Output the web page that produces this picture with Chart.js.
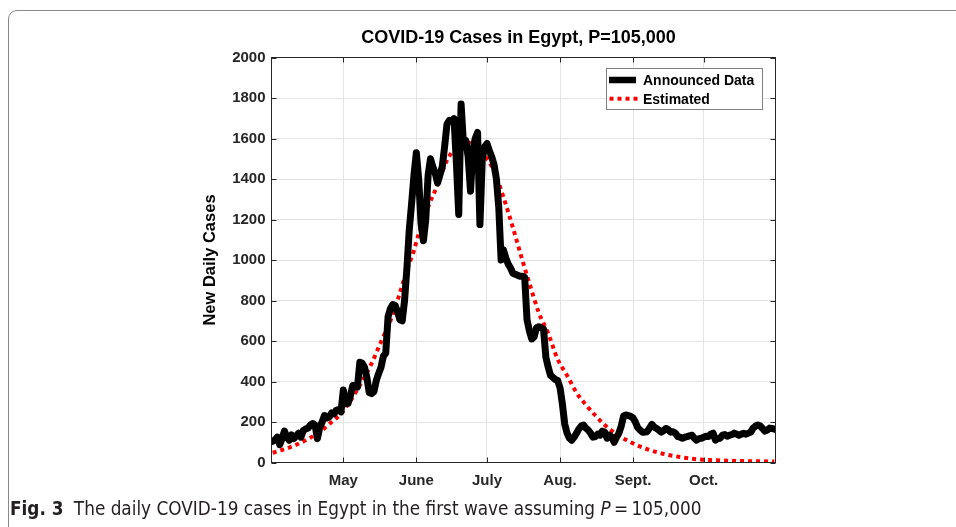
<!DOCTYPE html>
<html>
<head>
<meta charset="utf-8">
<script src="https://cdn.jsdelivr.net/npm/chart.js@4.4.1/dist/chart.umd.min.js"></script>
<style>
  html, body { margin: 0; padding: 0; background: #fff; }
  #wrap { position: relative; width: 956px; height: 527px; overflow: hidden; }
  #frame { position: absolute; left: 8px; top: 10px; width: 990px; height: 580px;
           border: 1px solid #8a8a8a; border-radius: 9px; box-sizing: border-box; }
  #plot { position: absolute; left: 0; top: 0; }
  #caption { position: absolute; left: 10px; top: 498px; white-space: nowrap; color: #231f20;
             font-family: "Liberation Sans Narrow", "DejaVu Sans Condensed", "Open Sans", sans-serif;
             font-size: 18.8px; line-height: 22px; }
  #caption b { font-weight: bold; margin-right: 5px; }
</style>
</head>
<body>
<div id="wrap">
  <div id="frame"></div>
  <canvas id="plot" width="956" height="527"></canvas>
  <div id="caption"><b>Fig. 3</b> The daily COVID-19 cases in Egypt in the first wave assuming <i>P</i>&thinsp;=&thinsp;105,000</div>
</div>
<script>
// Daily announced cases, one value per day starting 1 April
const announced = [
  105, 112, 125, 88, 120, 155, 125, 110, 136, 118,
  130, 145, 125, 158, 165, 170, 185, 192, 185, 118,
  175, 200, 232, 220, 225, 245, 240, 258, 262, 250,
  358, 290, 292, 330, 380, 378, 372, 495, 490, 470,
  420, 345, 340, 350, 405, 440, 470, 525, 540, 720,
  760, 780, 775, 745, 705, 700, 800, 960, 1150, 1280,
  1420, 1530, 1400, 1180, 1095, 1200, 1420, 1500, 1460, 1430,
  1380, 1420, 1460, 1560, 1670, 1690, 1685, 1698, 1480, 1225,
  1770, 1575, 1590, 1510, 1340, 1540, 1600, 1630, 1175, 1500,
  1560, 1575, 1540, 1510, 1470, 1400, 1260, 1000, 1050, 1010,
  980, 960, 935, 930, 925, 920, 920, 915, 705, 650,
  610, 620, 665, 670, 665, 660, 520, 470, 430, 420,
  410, 405, 370, 290, 190, 145, 120, 110, 125, 145,
  165, 180, 185, 170, 160, 145, 125, 128, 140, 135,
  155, 150, 120, 135, 125, 100, 125, 145, 180, 230,
  235, 232, 228, 220, 200, 172, 160, 150, 150, 152,
  170, 188, 175, 168, 160, 150, 158, 168, 162, 150,
  152, 145, 128, 125, 120, 125, 128, 132, 135, 120,
  110, 118, 120, 125, 130, 128, 140, 145, 110, 118,
  120, 135, 138, 130, 135, 138, 145, 140, 135, 140,
  144, 140, 145, 150, 170, 180, 185, 180, 168, 155,
  160, 170, 168, 165
];

// Model estimate, sampled at the listed day numbers
const estDays = [0, 4, 8, 12, 16, 21, 25, 29, 33, 37, 42, 46, 50, 53, 57, 60, 62, 66, 70, 74,
  78, 82, 86, 90, 94, 98, 102, 106, 109, 113, 117, 121, 125, 129, 133, 137, 141, 145, 150,
  155, 160, 165, 172, 179, 186, 193, 200, 207, 213];
const estValues = [48, 62, 78, 98, 122, 160, 200, 240, 305, 382, 489, 596, 700, 800, 949, 1048, 1130, 1262, 1370, 1492,
  1558, 1582, 1562, 1515, 1440, 1310, 1160, 1000, 885, 740, 637, 510, 430, 345, 285, 232, 185, 148, 112,
  84, 62, 45, 29, 17, 12, 9, 7, 6, 5];

// Month boundaries (day number from 1 April) and their labels
const monthTicks = [30, 61, 91, 122, 153, 183];
const monthLabels = ['May', 'June', 'July', 'Aug.', 'Sept.', 'Oct.'];

const yMax = 2000;
const yStep = 200;

const axisColor = '#262626';
const gridColor = '#e4e4e4';
const tickFont = { family: '"Liberation Sans", Arial, sans-serif', size: 15, weight: 'bold' };

const announcedPoints = announced.map((v, i) => ({ x: i, y: v }));
const estPoints = estDays.map((d, i) => ({ x: d, y: estValues[i] }));

// Axes box with inward tick marks, the title and the legend
const decorations = {
  id: 'decorations',
  afterDatasetsDraw(chart) {
    const { ctx, chartArea: a, scales } = chart;
    ctx.save();
    ctx.strokeStyle = axisColor;
    ctx.lineWidth = 1;
    ctx.strokeRect(a.left, a.top, a.right - a.left, a.bottom - a.top);
    const len = 5;
    ctx.beginPath();
    for (let v = 0; v <= yMax; v += yStep) {
      const y = Math.round(scales.y.getPixelForValue(v)) + 0.5;
      ctx.moveTo(a.left, y); ctx.lineTo(a.left + len, y);
      ctx.moveTo(a.right, y); ctx.lineTo(a.right - len, y);
    }
    monthTicks.forEach(m => {
      const x = Math.round(scales.x.getPixelForValue(m)) + 0.5;
      ctx.moveTo(x, a.bottom); ctx.lineTo(x, a.bottom - len);
      ctx.moveTo(x, a.top); ctx.lineTo(x, a.top + len);
    });
    ctx.stroke();
    ctx.restore();
  },
  afterDraw(chart) {
    const { ctx } = chart;
    ctx.save();
    // title
    ctx.fillStyle = '#000';
    ctx.font = 'bold 18px "Liberation Sans", Arial, sans-serif';
    ctx.textAlign = 'center';
    ctx.textBaseline = 'alphabetic';
    ctx.fillText('COVID-19 Cases in Egypt, P=105,000', 518.5, 42.5);

    // legend
    const bx = 606.5, by = 68.5, bw = 156, bh = 41;
    ctx.fillStyle = '#fff';
    ctx.fillRect(bx, by, bw, bh);
    ctx.strokeStyle = '#808080';
    ctx.lineWidth = 1;
    ctx.strokeRect(bx, by, bw, bh);

    ctx.strokeStyle = '#000';
    ctx.lineWidth = 6.5;
    ctx.lineCap = 'butt';
    ctx.beginPath(); ctx.moveTo(609, 80); ctx.lineTo(636, 80); ctx.stroke();

    ctx.strokeStyle = '#ff0000';
    ctx.lineWidth = 4;
    ctx.setLineDash([4, 4]);
    ctx.beginPath(); ctx.moveTo(609.5, 98.7); ctx.lineTo(638, 98.7); ctx.stroke();
    ctx.setLineDash([]);

    ctx.fillStyle = '#000';
    ctx.font = 'bold 14px "Liberation Sans", Arial, sans-serif';
    ctx.textAlign = 'left';
    ctx.fillText('Announced Data', 643, 85);
    ctx.fillText('Estimated', 643, 104);
    ctx.restore();
  }
};

new Chart(document.getElementById('plot'), {
  type: 'line',
  data: {
    datasets: [
      {
        label: 'Announced Data',
        data: announcedPoints,
        borderColor: '#000',
        borderWidth: 7,
        pointRadius: 0,
        tension: 0,
        borderJoinStyle: 'round',
        borderCapStyle: 'round',
        fill: false
      },
      {
        label: 'Estimated',
        data: estPoints,
        borderColor: '#ff0000',
        borderWidth: 4,
        borderDash: [4, 4],
        borderCapStyle: 'butt',
        pointRadius: 0,
        cubicInterpolationMode: 'monotone',
        fill: false
      }
    ]
  },
  options: {
    responsive: false,
    animation: false,
    events: [],
    layout: { padding: { left: 197, right: 180.5, top: 57.5, bottom: 34.5 } },
    plugins: {
      legend: { display: false },
      title: { display: false },
      tooltip: { enabled: false }
    },
    scales: {
      x: {
        type: 'linear',
        min: -0.5,
        max: 213.5,
        afterBuildTicks(scale) { scale.ticks = monthTicks.map(v => ({ value: v })); },
        afterFit(scale) { scale.height = 30; },
        ticks: {
          autoSkip: false,
          maxRotation: 0,
          padding: 9,
          color: axisColor,
          font: tickFont,
          callback: (v, i) => monthLabels[i]
        },
        grid: { color: gridColor, drawTicks: false, lineWidth: 1 },
        border: { display: false }
      },
      y: {
        min: 0,
        max: yMax,
        afterFit(scale) { scale.width = 74.5; },
        ticks: { stepSize: yStep, padding: 6, color: axisColor, font: tickFont, callback: v => String(v) },
        grid: { color: gridColor, drawTicks: false, lineWidth: 1 },
        border: { display: false },
        title: {
          display: true,
          text: 'New Daily Cases',
          color: '#000',
          font: { family: '"Liberation Sans", Arial, sans-serif', size: 16.5, weight: 'bold' },
          padding: { top: 4, bottom: 4 }
        }
      }
    }
  },
  plugins: [decorations]
});
</script>
</body>
</html>
